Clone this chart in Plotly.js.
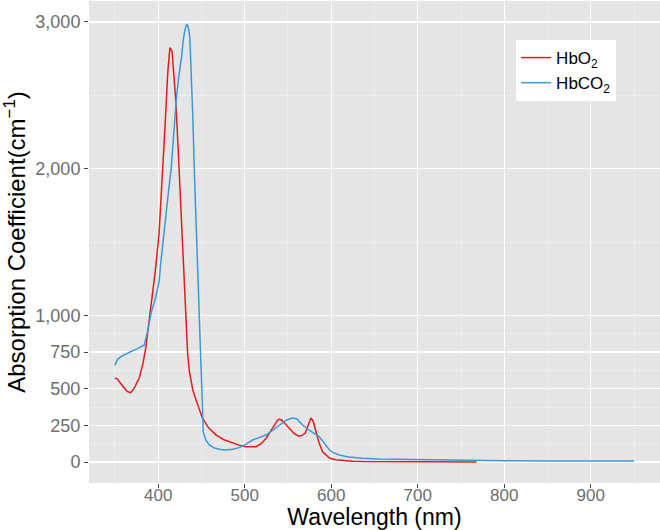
<!DOCTYPE html>
<html>
<head>
<meta charset="utf-8">
<script src="https://cdn.plot.ly/plotly-3.0.1.min.js"></script>
<style>html,body{margin:0;padding:0;background:#fff;}#chart{width:660px;height:530px;}</style>
</head>
<body>
<div id="chart"></div>
<script>
// HbO2 (red)
var hbo2Wavelength = [350,353,356,360,364,368,372,378,382,385.6,388,391.5,397,401,405,408,411,413.5,416,418,420.5,424,427.5,430,432,434,436,438,440,443,447,451,458,467,476,486,495,501,507,513,519,525,532,538,540,543,547,551,557,562,566,570,573,576.5,579,582,586,590,594,598,605,613,625,636,680,720,768];
var hbo2Values = [573,565,540,508,482,472,500,573,661,777,890,1050,1322,1560,1950,2300,2650,2825,2800,2650,2450,2013,1561,1150,900,740,620,548,490,436,360,300,235,184,152,130,112,104,102,104,125,164,230,285,293,285,260,232,195,178,180,198,250,300,280,207,130,70,45,27,15,10,6,3,2,1,1];
// HbCO2 (blue)
var hbco2Wavelength = [350,353,357,362,368,375,380,384,388,392,397,401,403,406,409,412,415,418,421,424,427,429,431,433,435,436.5,438,440,441.6,443.5,445.4,446.6,448,449.4,451,452,455,459,465,472,478,486,493.6,501,509,517,524.5,532,540,548,555,560,567,575,586,592,598,603,609,620,636,655,675,710,750,800,850,900,950];
var hbco2Values = [661,700,718,735,752,770,785,798,900,1020,1120,1230,1360,1540,1710,1850,2000,2250,2480,2640,2760,2880,2950,2985,2960,2900,2695,2350,2013,1650,1332,1207,900,661,400,207,150,116,95,85,82,87,98,120,150,168,184,215,252,285,300,295,252,215,173,130,82,62,48,35,25,20,18,14,10,8,7,7,7];

var yTicks = [0,250,500,750,1000,2000,3000];
var yMinor = [125,375,625,875,1500,2500];
var xTicks = [400,500,600,700,800,900];

var traces = [
  {x: hbo2Wavelength, y: hbo2Values, type: 'scatter', mode: 'lines', name: 'HbO<sub>2</sub>',
   line: {color: '#e41a1c', width: 1.5}},
  {x: hbco2Wavelength, y: hbco2Values, type: 'scatter', mode: 'lines', name: 'HbCO<sub>2</sub>',
   line: {color: '#3a9ad9', width: 1.5}}
];

var fontFam = '"Liberation Sans", Arial, sans-serif';
var layout = {
  width: 660, height: 530,
  margin: {l: 89, r: 0, t: 1, b: 47},
  paper_bgcolor: '#ffffff',
  plot_bgcolor: '#e5e5e5',
  showlegend: true,
  legend: {x: 0.748, y: 0.919, xanchor: 'left', yanchor: 'top', bgcolor: '#ffffff',
           font: {family: fontFam, size: 17, color: '#000'}, tracegroupgap: 0,
           itemwidth: 30},
  xaxis: {
    range: [320, 980], tickmode: 'array', tickvals: xTicks,
    showgrid: true, gridcolor: '#ffffff', gridwidth: 1.1, zeroline: false,
    ticks: 'outside', ticklen: 4, tickcolor: '#444', tickwidth: 1,
    ticklabelstandoff: -7,
    tickfont: {family: fontFam, size: 17, color: '#6e6e6e'},
    minor: {tick0: 350, dtick: 100, showgrid: true, gridcolor: '#f2f2f2', gridwidth: 0.6, ticks: ''},
    title: {text: 'Wavelength (nm)', font: {family: fontFam, size: 23, color: '#000'}},
    showline: false
  },
  yaxis: {
    range: [-143, 3143], tickmode: 'array', tickvals: yTicks, tickformat: ',d',
    showgrid: true, gridcolor: '#ffffff', gridwidth: 1.1, zeroline: false,
    ticks: 'outside', ticklen: 4, tickcolor: '#444', tickwidth: 1,
    tickfont: {family: fontFam, size: 18, color: '#6e6e6e'},
    minor: {tickmode: 'array', tickvals: yMinor, showgrid: true, gridcolor: '#f2f2f2', gridwidth: 0.6, ticks: ''},
    title: {text: 'Absorption Coefficient(cm<sup>\u22121</sup>)', font: {family: fontFam, size: 24, color: '#000'}, standoff: 4},
    showline: false
  }
};

Plotly.newPlot('chart', traces, layout, {displayModeBar: false, staticPlot: true});
</script>
</body>
</html>
